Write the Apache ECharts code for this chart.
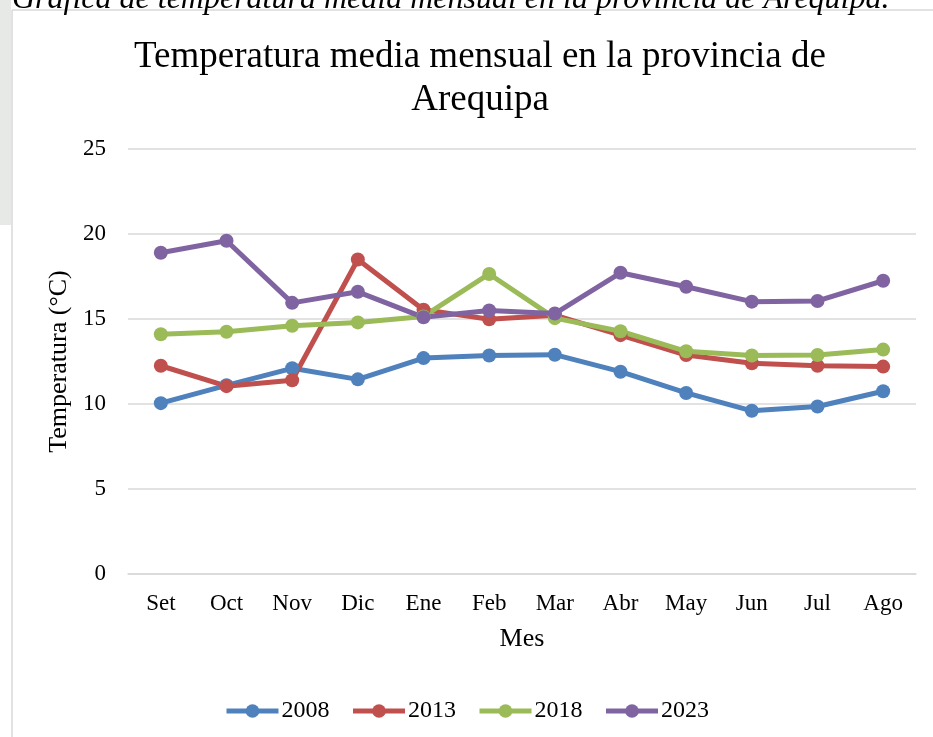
<!DOCTYPE html>
<html>
<head>
<meta charset="utf-8">
<script src="https://cdn.jsdelivr.net/npm/echarts@6/dist/echarts.min.js"></script>
<style>html,body{margin:0;padding:0;background:#fff}#c{width:933px;height:737px}</style>
</head>
<body>
<div id="c"></div>
<script>
const months = ['Set','Oct','Nov','Dic','Ene','Feb','Mar','Abr','May','Jun','Jul','Ago'];
const s2008 = [10.05, 11.1, 12.1, 11.45, 12.7, 12.85, 12.9, 11.9, 10.65, 9.6, 9.85, 10.75];
const s2013 = [12.25, 11.05, 11.4, 18.5, 15.55, 14.98, 15.22, 14.05, 12.88, 12.4, 12.25, 12.2];
const s2018 = [14.1, 14.25, 14.6, 14.8, 15.15, 17.65, 15.05, 14.28, 13.1, 12.85, 12.88, 13.2];
const s2023 = [18.9, 19.6, 15.95, 16.6, 15.1, 15.5, 15.32, 17.72, 16.9, 16.02, 16.06, 17.25];
const yTicks = {min: 0, max: 25, interval: 5};
const seriesNames = ['2008','2013','2018','2023'];
const seriesData = [s2008, s2013, s2018, s2023];
const colors = ['#4F81BD','#C0504D','#9BBB59','#8064A2'];

const font = '"Liberation Serif", "Times New Roman", serif';
const chart = echarts.init(document.getElementById('c'), null, {renderer: 'canvas'});
chart.setOption({
  animation: false,
  backgroundColor: '#fff',
  color: colors,
  title: {
    text: 'Temperatura media mensual en la provincia de\nArequipa',
    left: 475, top: 31, textAlign: 'center',
    textStyle: {fontFamily: font, fontSize: 37, fontWeight: 'normal', color: '#000', lineHeight: 43}
  },
  graphic: [
    {type: 'rect', shape: {x: 0, y: 0, width: 11, height: 225}, style: {fill: '#e6e9e6'}, z: -10},
    {type: 'line', shape: {x1: 12, y1: 10, x2: 933, y2: 10}, style: {stroke: '#d9d9d9', lineWidth: 1.5}},
    {type: 'line', shape: {x1: 12, y1: 10, x2: 12, y2: 737}, style: {stroke: '#d9d9d9', lineWidth: 1.5}},
    {type: 'text', left: 12, top: -16, style: {text: 'Gráfica de temperatura media mensual en la provincia de Arequipa.', font: 'italic 32px ' + font, fill: '#000'}}
  ],
  legend: {
    data: seriesNames,
    bottom: 9, left: 'center',
    itemWidth: 52, itemHeight: 17, itemGap: 21,
    lineStyle: {width: 5},
    textStyle: {fontFamily: font, fontSize: 24, color: '#000', padding: [0, 0, 0, -2]}
  },
  grid: {left: 128, right: 17, top: 149, bottom: 163, containLabel: false},
  xAxis: {
    type: 'category', data: months, boundaryGap: true,
    name: 'Mes', nameLocation: 'middle', nameGap: 52,
    nameTextStyle: {fontFamily: font, fontSize: 26, color: '#000'},
    axisLine: {show: true, lineStyle: {color: '#d9d9d9', width: 1.5}},
    axisTick: {show: false},
    axisLabel: {fontFamily: font, fontSize: 23, color: '#000', margin: 18}
  },
  yAxis: {
    type: 'value', min: yTicks.min, max: yTicks.max, interval: yTicks.interval,
    name: 'Temperatura (°C)', nameLocation: 'middle', nameGap: 50,
    nameTextStyle: {fontFamily: font, fontSize: 26, color: '#000'},
    axisLine: {show: false}, axisTick: {show: false},
    axisLabel: {fontFamily: font, fontSize: 23, color: '#000', margin: 22},
    splitLine: {lineStyle: {color: '#d9d9d9', width: 1.5}}
  },
  series: seriesNames.map((n, i) => ({
    name: n, type: 'line', data: seriesData[i],
    symbol: 'circle', symbolSize: 14,
    lineStyle: {width: 5, color: colors[i]},
    itemStyle: {color: colors[i]}
  }))
});
</script>
</body>
</html>
